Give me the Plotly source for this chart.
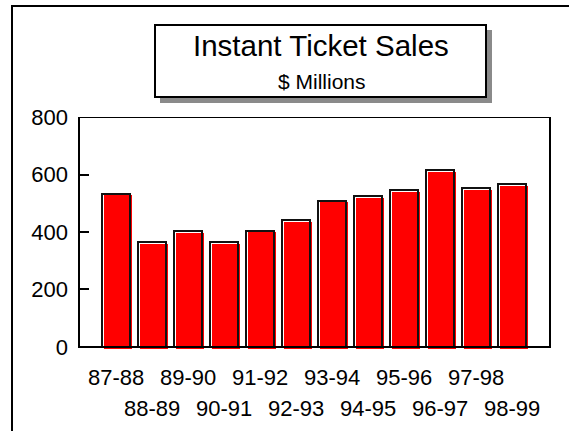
import plotly.graph_objects as go

# Fiscal years and instant ticket sales ($ millions)
years = ["87-88", "88-89", "89-90", "90-91", "91-92", "92-93",
         "93-94", "94-95", "95-96", "96-97", "97-98", "98-99"]
sales = [533, 365, 403, 365, 405, 440, 509, 525, 545, 615, 553, 566]
y_ticks = [0, 200, 400, 600, 800]

FONT = "Liberation Sans, Arial, sans-serif"
idx = list(range(len(years)))

# Plot-area geometry (pixels) used to place paper-referenced decorations
L, R, T, B = 79, 550, 117, 349
W, H = R - L, B - T


def px(x):
    return (x - L) / W


def py(y):
    return (B - y) / H


BAR_W = 0.78
SHIFT_X = 2 / 36.0      # offset of the red face, in category units
SHIFT_Y = -6            # drop of the red face, in value units

fig = go.Figure()

# red face, slightly shifted right/down for the raised look
fig.add_trace(go.Bar(
    x=idx, y=sales, base=SHIFT_Y,
    width=BAR_W, offset=-BAR_W / 2 + SHIFT_X,
    marker=dict(color="#ff0000", line=dict(width=0)),
    hoverinfo="skip", showlegend=False,
))
# black outline on top
fig.add_trace(go.Bar(
    x=idx, y=sales,
    width=BAR_W, offset=-BAR_W / 2,
    marker=dict(color="rgba(0,0,0,0)", line=dict(color="#111111", width=2)),
    showlegend=False,
))

shapes = [
    # plot frame from 0 to 800
    dict(type="rect", xref="paper", yref="y", x0=0, x1=1, y0=0, y1=800,
         line=dict(color="black", width=2), layer="above"),
    # outer border (only left and top edges fall inside the page)
    dict(type="rect", xref="paper", yref="paper",
         x0=px(12), x1=px(640), y0=py(500), y1=py(6),
         line=dict(color="black", width=2)),
    # title box shadow
    dict(type="rect", xref="paper", yref="paper",
         x0=px(160), x1=px(492), y0=py(103), y1=py(30),
         fillcolor="#8a8a8a", line=dict(width=0)),
    # title box
    dict(type="rect", xref="paper", yref="paper",
         x0=px(155), x1=px(486), y0=py(97), y1=py(25),
         fillcolor="white", line=dict(color="black", width=2)),
]

annotations = [
    dict(text="Instant Ticket Sales", xref="paper", yref="paper",
         x=px(320.5), y=py(45), xanchor="center", yanchor="middle",
         showarrow=False, font=dict(family=FONT, size=29.5, color="black")),
    dict(text="$ Millions", xref="paper", yref="paper",
         x=px(322), y=py(82), xanchor="center", yanchor="middle",
         showarrow=False, font=dict(family=FONT, size=21, color="black")),
]

# staggered category labels
for i, lab in enumerate(years):
    annotations.append(dict(
        text=lab, xref="x", yref="paper", x=i,
        y=py(377) if i % 2 == 0 else py(408),
        xanchor="center", yanchor="middle", showarrow=False,
        font=dict(family=FONT, size=22, color="black"),
    ))

fig.update_layout(
    width=569, height=431,
    margin=dict(l=L, r=569 - R, t=T, b=431 - B, pad=0),
    paper_bgcolor="white", plot_bgcolor="white",
    barmode="overlay", bargap=0,
    shapes=shapes, annotations=annotations,
    xaxis=dict(range=[-1.03, 12.06], showticklabels=False, ticks="",
               showgrid=False, zeroline=False, showline=False, fixedrange=True),
    yaxis=dict(range=[-7, 800], tickvals=y_ticks, ticktext=[str(v) for v in y_ticks],
               ticks="inside", ticklen=10, tickwidth=2, tickcolor="black",
               ticklabelstandoff=10,
               tickfont=dict(family=FONT, size=22, color="black"),
               showgrid=False, zeroline=False, showline=False, fixedrange=True),
    font=dict(family=FONT),
)

fig.write_html("out.html")
